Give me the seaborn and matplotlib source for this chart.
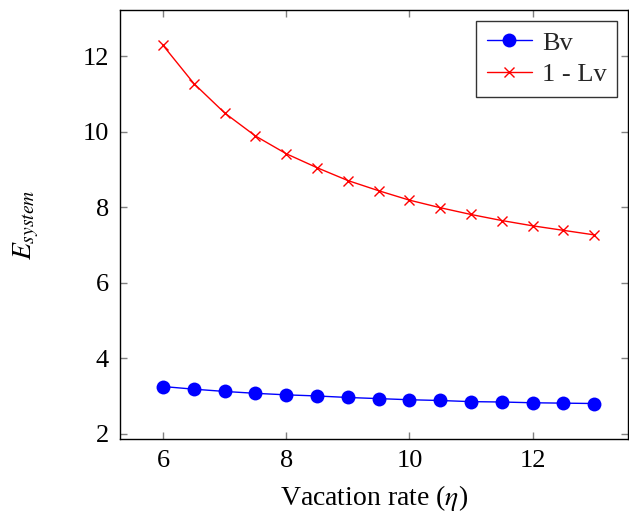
import pandas as pd
import numpy as np
import matplotlib.pyplot as plt
import seaborn as sns

eta = [6, 6.5, 7, 7.5, 8, 8.5, 9, 9.5, 10, 10.5, 11, 11.5, 12, 12.5, 13]
bv = [3.25, 3.18, 3.12, 3.07, 3.03, 3.00, 2.96, 2.93, 2.90, 2.88, 2.85, 2.84, 2.82, 2.81, 2.80]
lv = [12.29, 11.28, 10.50, 9.89, 9.42, 9.05, 8.71, 8.44, 8.19, 7.99, 7.81, 7.65, 7.51, 7.39, 7.27]

df = pd.DataFrame({'eta': eta, 'Bv': bv, '1 - Lv': lv})

sns.set_theme(style='white')
plt.rcParams['font.family'] = ['Liberation Serif', 'DejaVu Serif']
plt.rcParams['mathtext.fontset'] = 'stix'

fig = plt.figure(figsize=(6.29, 5.2), dpi=100)
ax = fig.add_axes([0.1908, 0.1558, 0.8076, 0.825])

sns.lineplot(x='eta', y='Bv', data=df, ax=ax, color='blue', marker='o',
             markersize=10, markeredgewidth=0, linewidth=1, label='Bv')
sns.lineplot(x='eta', y='1 - Lv', data=df, ax=ax, color='red', marker='x',
             markersize=7, markeredgewidth=1, markeredgecolor='red',
             linewidth=1, label='1 - Lv')

ax.set_xlim(5.3, 13.55)
ax.set_ylim(1.86, 13.23)
ax.set_xticks([6, 8, 10, 12])
ax.set_yticks([2, 4, 6, 8, 10, 12])

for s in ax.spines.values():
    s.set_color('black')
    s.set_linewidth(1)

ax.tick_params(direction='in', length=5, width=1, color='gray',
               top=True, right=True, bottom=True, left=True,
               labelsize=19, labelcolor='black', pad=8)

ax.set_xlabel(r'Vacation rate ($\eta$)', fontsize=20, color='black', labelpad=8)
ax.set_ylabel(r'$E_{system}$', fontsize=20, color='black', labelpad=30)

leg = ax.legend(loc='upper right', fontsize=19, frameon=True, fancybox=False,
                edgecolor='black', borderaxespad=0.4, handlelength=1.7,
                labelspacing=0.3, handletextpad=0.4, borderpad=0.4)
leg.get_frame().set_linewidth(1)

fig.savefig('out.png', dpi=100)
